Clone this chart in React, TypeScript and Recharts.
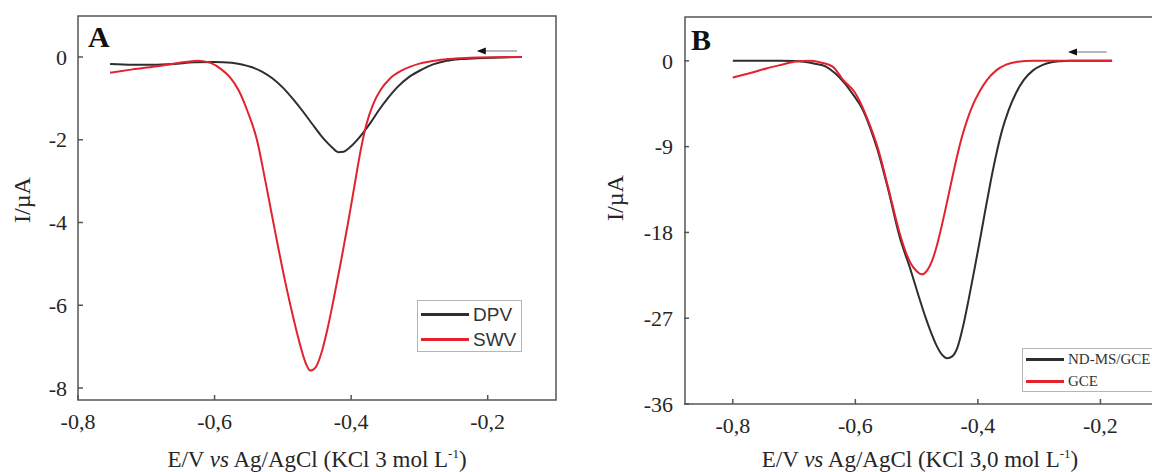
import React from 'react';
import { LineChart, Line, XAxis, YAxis, ReferenceArea, ReferenceLine, Legend } from 'recharts';

const SERIF = '"Liberation Serif", "Times New Roman", serif';
const SANS = '"Liberation Sans", Arial, sans-serif';
const FRAME = '#555555';
const BLACK = '#2e2e2e';
const RED = '#e3222d';
const TEXT = '#262626';

// Panel A: DPV vs SWV
const dpvPotential = [-0.753, -0.72, -0.69, -0.66, -0.63, -0.6, -0.575, -0.56, -0.545, -0.53, -0.515, -0.5, -0.485, -0.47, -0.457, -0.445, -0.435, -0.427, -0.419, -0.411, -0.403, -0.392, -0.382, -0.37, -0.36, -0.345, -0.333, -0.315, -0.296, -0.28, -0.26, -0.24, -0.215, -0.18, -0.15];
const dpvCurrent = [-0.17, -0.19, -0.19, -0.17, -0.13, -0.12, -0.14, -0.18, -0.25, -0.36, -0.52, -0.74, -1.02, -1.33, -1.62, -1.88, -2.07, -2.2, -2.3, -2.29, -2.2, -2.02, -1.82, -1.55, -1.3, -0.97, -0.74, -0.48, -0.3, -0.18, -0.09, -0.05, -0.03, -0.01, 0];
const swvPotential = [-0.753, -0.72, -0.687, -0.655, -0.624, -0.605, -0.59, -0.577, -0.565, -0.552, -0.538, -0.525, -0.511, -0.497, -0.484, -0.474, -0.466, -0.46, -0.452, -0.444, -0.435, -0.425, -0.415, -0.405, -0.395, -0.386, -0.378, -0.368, -0.357, -0.343, -0.325, -0.3, -0.269, -0.24, -0.215, -0.15];
const swvCurrent = [-0.38, -0.3, -0.23, -0.15, -0.09, -0.15, -0.3, -0.5, -0.8, -1.3, -2.0, -3.05, -4.25, -5.4, -6.35, -7.0, -7.42, -7.58, -7.5, -7.18, -6.6, -5.8, -4.95, -4.05, -3.1, -2.25, -1.65, -1.15, -0.8, -0.52, -0.32, -0.16, -0.07, -0.03, -0.01, 0];
const aTicksX = [-0.8, -0.6, -0.4, -0.2];
const aTicksY = [0, -2, -4, -6, -8];
const aDomainX = [-0.8, -0.1];
const aDomainY = [-8.29, 0.99];
const aArrow = [-0.157, -0.216, 0.145];
const aLegend = ['DPV', 'SWV'];

// Panel B: ND-MS/GCE vs GCE
const ndPotential = [-0.8, -0.76, -0.72, -0.7, -0.684, -0.666, -0.648, -0.633, -0.618, -0.603, -0.588, -0.576, -0.564, -0.546, -0.528, -0.51, -0.498, -0.486, -0.477, -0.468, -0.459, -0.45, -0.442, -0.433, -0.424, -0.415, -0.406, -0.397, -0.388, -0.379, -0.37, -0.361, -0.35, -0.338, -0.325, -0.31, -0.295, -0.28, -0.265, -0.25, -0.22, -0.181];
const ndCurrent = [0, 0, 0, -0.02, -0.1, -0.3, -0.6, -1.3, -2.3, -3.6, -5.1, -7.0, -9.3, -13.6, -18.4, -21.9, -24.4, -26.8, -28.4, -29.8, -30.8, -31.2, -31.0, -30.0, -27.8, -25.0, -22.0, -18.9, -15.7, -12.6, -9.8, -7.4, -5.2, -3.4, -2.0, -1.0, -0.45, -0.15, -0.04, 0, 0, 0];
const gcePotential = [-0.8, -0.77, -0.744, -0.72, -0.697, -0.672, -0.655, -0.637, -0.62, -0.601, -0.588, -0.576, -0.564, -0.546, -0.528, -0.518, -0.51, -0.501, -0.492, -0.483, -0.475, -0.467, -0.459, -0.451, -0.443, -0.435, -0.427, -0.418, -0.408, -0.397, -0.385, -0.37, -0.354, -0.335, -0.31, -0.25, -0.181];
const gceCurrent = [-1.75, -1.25, -0.77, -0.4, -0.07, 0, -0.2, -0.6, -2.0, -3.3, -4.9, -6.8, -9.0, -13.4, -18.0, -20.0, -21.2, -22.0, -22.4, -22.0, -21.0, -19.4, -17.3, -15.0, -12.6, -10.3, -8.2, -6.3, -4.6, -3.2, -2.0, -1.0, -0.4, -0.1, 0, 0, 0];
const bTicksX = [-0.8, -0.6, -0.4, -0.2];
const bTicksY = [0, -9, -18, -27, -36];
const bDomainX = [-0.878, 0];
const bDomainY = [-36, 4.6];
const bArrow = [-0.19, -0.253, 0.94];
const bLegend = ['ND-MS/GCE', 'GCE'];

const toPoints = (e: number[], i: number[]) => e.map((x, k) => ({ e: x, i: i[k] }));
const fmtX = (v: number) => v.toFixed(1).replace('.', ',');

const XTick = (props: any) => {
  const { x, y, payload } = props;
  return (
    <g>
      <line x1={x} y1={y - 13} x2={x} y2={y - 18} stroke={FRAME} strokeWidth={1.5} />
      <text x={x} y={y} dy="0.72em" textAnchor="middle" fontFamily={SERIF} fontSize={22} fill={TEXT}>
        {fmtX(payload.value)}
      </text>
    </g>
  );
};

const YTick = (props: any) => {
  const { x, y, payload } = props;
  return (
    <g>
      <line x1={x + 11} y1={y} x2={x + 16} y2={y} stroke={FRAME} strokeWidth={1.5} />
      <text x={x} y={y} dy="0.35em" textAnchor="end" fontFamily={SERIF} fontSize={22} fill={TEXT}>
        {String(payload.value)}
      </text>
    </g>
  );
};

const arrowShape = (p: any) => {
  const { x1, y1, x2 } = p;
  const head = Math.min(x1, x2);
  const tail = Math.max(x1, x2);
  return (
    <g>
      <line x1={head + 6} y1={y1} x2={tail} y2={y1} stroke="#a0a0a0" strokeWidth={1.5} />
      <polygon points={`${head},${y1} ${head + 9},${y1 - 3.5} ${head + 9},${y1 + 3.5}`} fill="#111" />
    </g>
  );
};

function LegendBox({ payload, order, font, size, lineW, rowH, top }: any) {
  const items = order
    .map((name: string) => (payload || []).find((p: any) => p.value === name))
    .filter(Boolean);
  return (
    <div style={{ width: '100%', height: '100%', boxSizing: 'border-box', border: '1px solid #b5b5b5', position: 'relative' }}>
      {items.map((item: any, k: number) => (
        <div key={item.value} style={{ position: 'absolute', left: 3, top: top + k * rowH, display: 'flex', alignItems: 'center', height: 0 }}>
          <div style={{ width: lineW, height: 3, background: item.color }} />
          <span style={{ marginLeft: 4, fontFamily: font, fontSize: size, color: '#333', whiteSpace: 'nowrap', lineHeight: 1 }}>{item.value}</span>
        </div>
      ))}
    </div>
  );
}

export default function App() {
  const dpv = toPoints(dpvPotential, dpvCurrent);
  const swv = toPoints(swvPotential, swvCurrent);
  const nd = toPoints(ndPotential, ndCurrent);
  const gce = toPoints(gcePotential, gceCurrent);

  return (
    <div style={{ position: 'absolute', left: 0, top: 0, width: 1152, height: 472, overflow: 'hidden', background: '#fff' }}>
      <div style={{ position: 'absolute', left: 0, top: 0 }}>
        <LineChart width={600} height={472} margin={{ top: 16, right: 44, bottom: 71, left: 77 }}>
          <XAxis type="number" dataKey="e" domain={aDomainX} ticks={aTicksX} allowDataOverflow height={1}
            axisLine={false} tickLine={false} tickSize={0} tickMargin={13} tick={<XTick />} interval={0} />
          <YAxis type="number" dataKey="i" domain={aDomainY} ticks={aTicksY} allowDataOverflow width={1}
            axisLine={false} tickLine={false} tickSize={0} tickMargin={11} tick={<YTick />} interval={0} />
          <ReferenceArea x1={aDomainX[0]} x2={aDomainX[1]} y1={aDomainY[0]} y2={aDomainY[1]} fill="none" stroke={FRAME} strokeWidth={1.5} ifOverflow="visible" />
          <ReferenceLine segment={[{ x: aArrow[0], y: aArrow[2] }, { x: aArrow[1], y: aArrow[2] }]} shape={arrowShape} />
          <Line data={dpv} dataKey="i" name="DPV" type="monotone" stroke={BLACK} strokeWidth={2} dot={false} isAnimationActive={false} />
          <Line data={swv} dataKey="i" name="SWV" type="monotone" stroke={RED} strokeWidth={2} dot={false} isAnimationActive={false} />
          <Legend
            layout="horizontal"
            verticalAlign="middle"
            align="center"
            wrapperStyle={{ left: 417, top: 300, width: 105, height: 52 }}
            content={(p: any) => <LegendBox payload={p.payload} order={aLegend} font={SANS} size={19} lineW={48} rowH={25} top={13} />}
          />
        </LineChart>
      </div>

      <div style={{ position: 'absolute', left: 600, top: 0 }}>
        <LineChart width={700} height={472} margin={{ top: 17, right: 77, bottom: 67, left: 84 }}>
          <XAxis type="number" dataKey="e" domain={bDomainX} ticks={bTicksX} allowDataOverflow height={1}
            axisLine={false} tickLine={false} tickSize={0} tickMargin={13} tick={<XTick />} interval={0} />
          <YAxis type="number" dataKey="i" domain={bDomainY} ticks={bTicksY} allowDataOverflow width={1}
            axisLine={false} tickLine={false} tickSize={0} tickMargin={12} tick={<YTick />} interval={0} />
          <ReferenceArea x1={bDomainX[0]} x2={bDomainX[1]} y1={bDomainY[0]} y2={bDomainY[1]} fill="none" stroke={FRAME} strokeWidth={1.5} ifOverflow="visible" />
          <ReferenceLine segment={[{ x: bArrow[0], y: bArrow[2] }, { x: bArrow[1], y: bArrow[2] }]} shape={arrowShape} />
          <Line data={nd} dataKey="i" name="ND-MS/GCE" type="monotone" stroke={BLACK} strokeWidth={2} dot={false} isAnimationActive={false} />
          <Line data={gce} dataKey="i" name="GCE" type="monotone" stroke={RED} strokeWidth={2} dot={false} isAnimationActive={false} />
          <Legend
            layout="horizontal"
            verticalAlign="middle"
            align="center"
            wrapperStyle={{ left: 422, top: 348, width: 160, height: 44 }}
            content={(p: any) => <LegendBox payload={p.payload} order={bLegend} font={SERIF} size={15} lineW={38} rowH={22} top={10} />}
          />
        </LineChart>
      </div>

      <svg width={1152} height={472} style={{ position: 'absolute', left: 0, top: 0, pointerEvents: 'none' }}>
        <text x={88} y={47} fontFamily={SERIF} fontWeight="bold" fontSize={30} fill="#111">A</text>
        <text x={691} y={50} fontFamily={SERIF} fontWeight="bold" fontSize={30} fill="#111">B</text>
        <text x={30} y={200} transform="rotate(-90, 30, 200)" textAnchor="middle" fontFamily={SERIF} fontSize={24} fill={TEXT}>I/µA</text>
        <text x={623} y={198} transform="rotate(-90, 623, 198)" textAnchor="middle" fontFamily={SERIF} fontSize={24} fill={TEXT}>I/µA</text>
        <text x={317} y={467} textAnchor="middle" fontFamily={SERIF} fontSize={23} fill={TEXT}>
          E/V <tspan fontStyle="italic">vs</tspan> Ag/AgCl (KCl 3 mol L<tspan dy={-9} fontSize={13}>-1</tspan><tspan dy={9}>)</tspan>
        </text>
        <text x={920} y={467} textAnchor="middle" fontFamily={SERIF} fontSize={23} fill={TEXT}>
          E/V <tspan fontStyle="italic">vs</tspan> Ag/AgCl (KCl 3,0 mol L<tspan dy={-9} fontSize={13}>-1</tspan><tspan dy={9}>)</tspan>
        </text>
      </svg>
    </div>
  );
}
